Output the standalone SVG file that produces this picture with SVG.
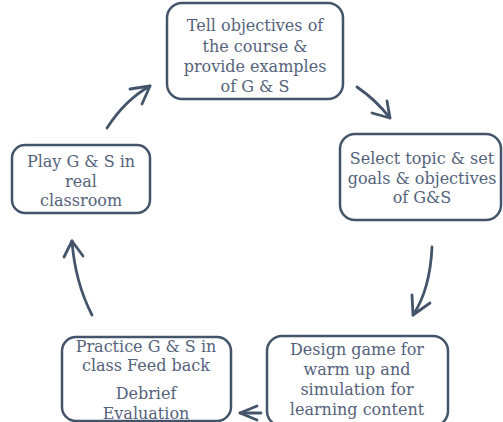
<svg xmlns="http://www.w3.org/2000/svg" width="503" height="422" viewBox="0 0 503 422">
<defs>
<style>
.box{fill:#ffffff;stroke:#44546a;stroke-width:2.5}
.t{font-family:"DejaVu Serif","Liberation Serif",serif;font-size:16px;fill:#55627b;text-anchor:middle}
.c{fill:none;stroke:#44546a;stroke-width:2.8;stroke-linecap:round;stroke-linejoin:round}
</style>
</defs>
<rect width="503" height="422" fill="#ffffff"/>
<g id="connectors">
<path class="c" d="M357,87 Q376,100 390,118"/>
<path class="c" d="M387,101 L390,118 L372,113"/>
<path class="c" d="M432,247 Q430,290 413,315"/>
<path class="c" d="M412,295 L413,315 L430,303"/>
<path class="c" d="M261,413 L240,413"/>
<path class="c" d="M257,406 L240,413 L257,420"/>
<path class="c" d="M92,315 Q75,282 72,241"/>
<path class="c" d="M64,257 L72,241 L83,256"/>
<path class="c" d="M107,128 Q125,100 150,86"/>
<path class="c" d="M130,89 L150,86 L142,104"/>
</g>
<g id="node-top">
<rect class="box" x="167" y="3" width="176" height="96" rx="15"/>
<text class="t" x="255" y="31">Tell objectives of</text>
<text class="t" x="255" y="52">the course &amp;</text>
<text class="t" x="255" y="72">provide examples</text>
<text class="t" x="255" y="92">of G &amp; S</text>
</g>
<g id="node-right">
<rect class="box" x="340" y="134" width="161" height="86" rx="15"/>
<text class="t" x="422" y="164">Select topic &amp; set</text>
<text class="t" x="422" y="184">goals &amp; objectives</text>
<text class="t" x="422" y="203">of G&amp;S</text>
</g>
<g id="node-bottom-right">
<rect class="box" x="267" y="336" width="181" height="90" rx="15"/>
<text class="t" x="357" y="355">Design game for</text>
<text class="t" x="357" y="375">warm up and</text>
<text class="t" x="357" y="395">simulation for</text>
<text class="t" x="357" y="415">learning content</text>
</g>
<g id="node-bottom-left">
<rect class="box" x="62" y="337" width="169" height="84" rx="14"/>
<text class="t" x="146" y="352">Practice G &amp; S in</text>
<text class="t" x="146" y="371">class Feed back</text>
<text class="t" x="146" y="399">Debrief</text>
<text class="t" x="146" y="419">Evaluation</text>
</g>
<g id="node-left">
<rect class="box" x="12" y="145" width="138" height="68" rx="13"/>
<text class="t" x="81" y="167">Play G &amp; S in</text>
<text class="t" x="81" y="187">real</text>
<text class="t" x="81" y="206">classroom</text>
</g>
</svg>
